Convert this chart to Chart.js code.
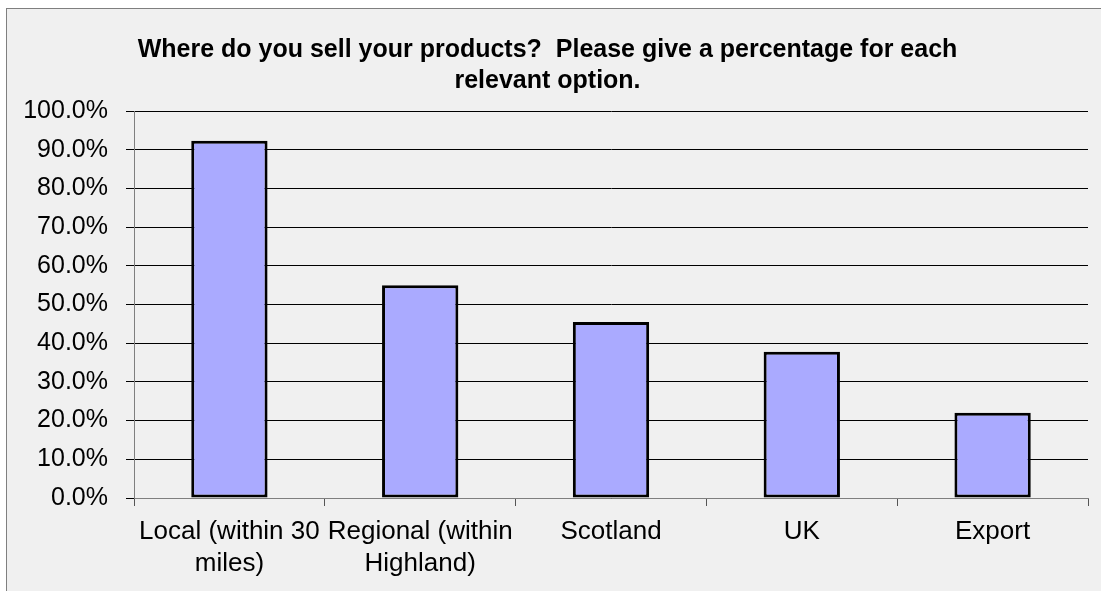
<!DOCTYPE html>
<html>
<head>
<meta charset="utf-8">
<script src="https://cdn.jsdelivr.net/npm/chart.js@4.4.0/dist/chart.umd.min.js"></script>
<style>
    html, body { margin: 0; padding: 0; background: #ffffff; overflow: hidden; }
    #frame {
        position: absolute; left: 6px; top: 8px;
        width: 1100px; height: 590px;
        border-left: 1px solid #7f7f7f; border-top: 1px solid #7f7f7f;
        background: #f0f0f0;
    }
    #myChart { display: block; }
</style>
</head>
<body>
<div id="frame"><canvas id="myChart" width="1094" height="582"></canvas></div>
<script>
// Survey: where products are sold (share of respondents)
const categories = [
    ['Local (within 30', 'miles)'],
    ['Regional (within', 'Highland)'],
    'Scotland',
    'UK',
    'Export'
];
const sharePercent = [92.3, 55.0, 45.5, 37.8, 22.0];
const yTicks = [0, 10, 20, 30, 40, 50, 60, 70, 80, 90, 100];
const titleLines = [
    'Where do you sell your products?  Please give a percentage for each',
    'relevant option.'
];

const ctx = document.getElementById('myChart');

new Chart(ctx, {
    type: 'bar',
    data: {
        labels: categories,
        datasets: [{
            label: 'Share',
            data: sharePercent,
            backgroundColor: '#aaaaff',
            borderColor: '#000000',
            borderWidth: 3,
            borderSkipped: false,
            categoryPercentage: 1,
            barPercentage: 0.40
        }]
    },
    options: {
        responsive: false,
        animation: false,
        layout: { padding: { left: 0, right: 13, top: 0, bottom: 0 } },
        plugins: {
            legend: { display: false },
            tooltip: { enabled: false },
            title: {
                display: true,
                text: titleLines,
                color: '#000000',
                font: { family: 'Liberation Sans', size: 25, weight: 'bold', lineHeight: 1.24 },
                padding: { top: 26, bottom: 14 }
            }
        },
        scales: {
            x: {
                offset: true,
                grid: {
                    offset: true,
                    drawOnChartArea: false,
                    drawTicks: true,
                    tickLength: 8,
                    color: '#555555'
                },
                border: { display: true, color: '#7f7f7f', width: 1 },
                ticks: {
                    color: '#000000',
                    padding: 10,
                    maxRotation: 0,
                    autoSkip: false,
                    font: { family: 'Liberation Sans', size: 26, lineHeight: 1.23 }
                },
                afterFit: function (scale) { scale.height = 93; }
            },
            y: {
                min: 0,
                max: 100,
                afterBuildTicks: function (scale) {
                    scale.ticks = yTicks.map(function (v) { return { value: v }; });
                },
                grid: {
                    color: '#000000',
                    lineWidth: 1,
                    drawTicks: true,
                    tickLength: 8
                },
                border: { display: true, color: '#7f7f7f', width: 1 },
                ticks: {
                    color: '#000000',
                    padding: 18,
                    font: { family: 'Liberation Sans', size: 25 },
                    callback: function (value) { return value.toFixed(1) + '%'; }
                },
                afterFit: function (scale) { scale.width = 127; }
            }
        }
    }
});
</script>
</body>
</html>
